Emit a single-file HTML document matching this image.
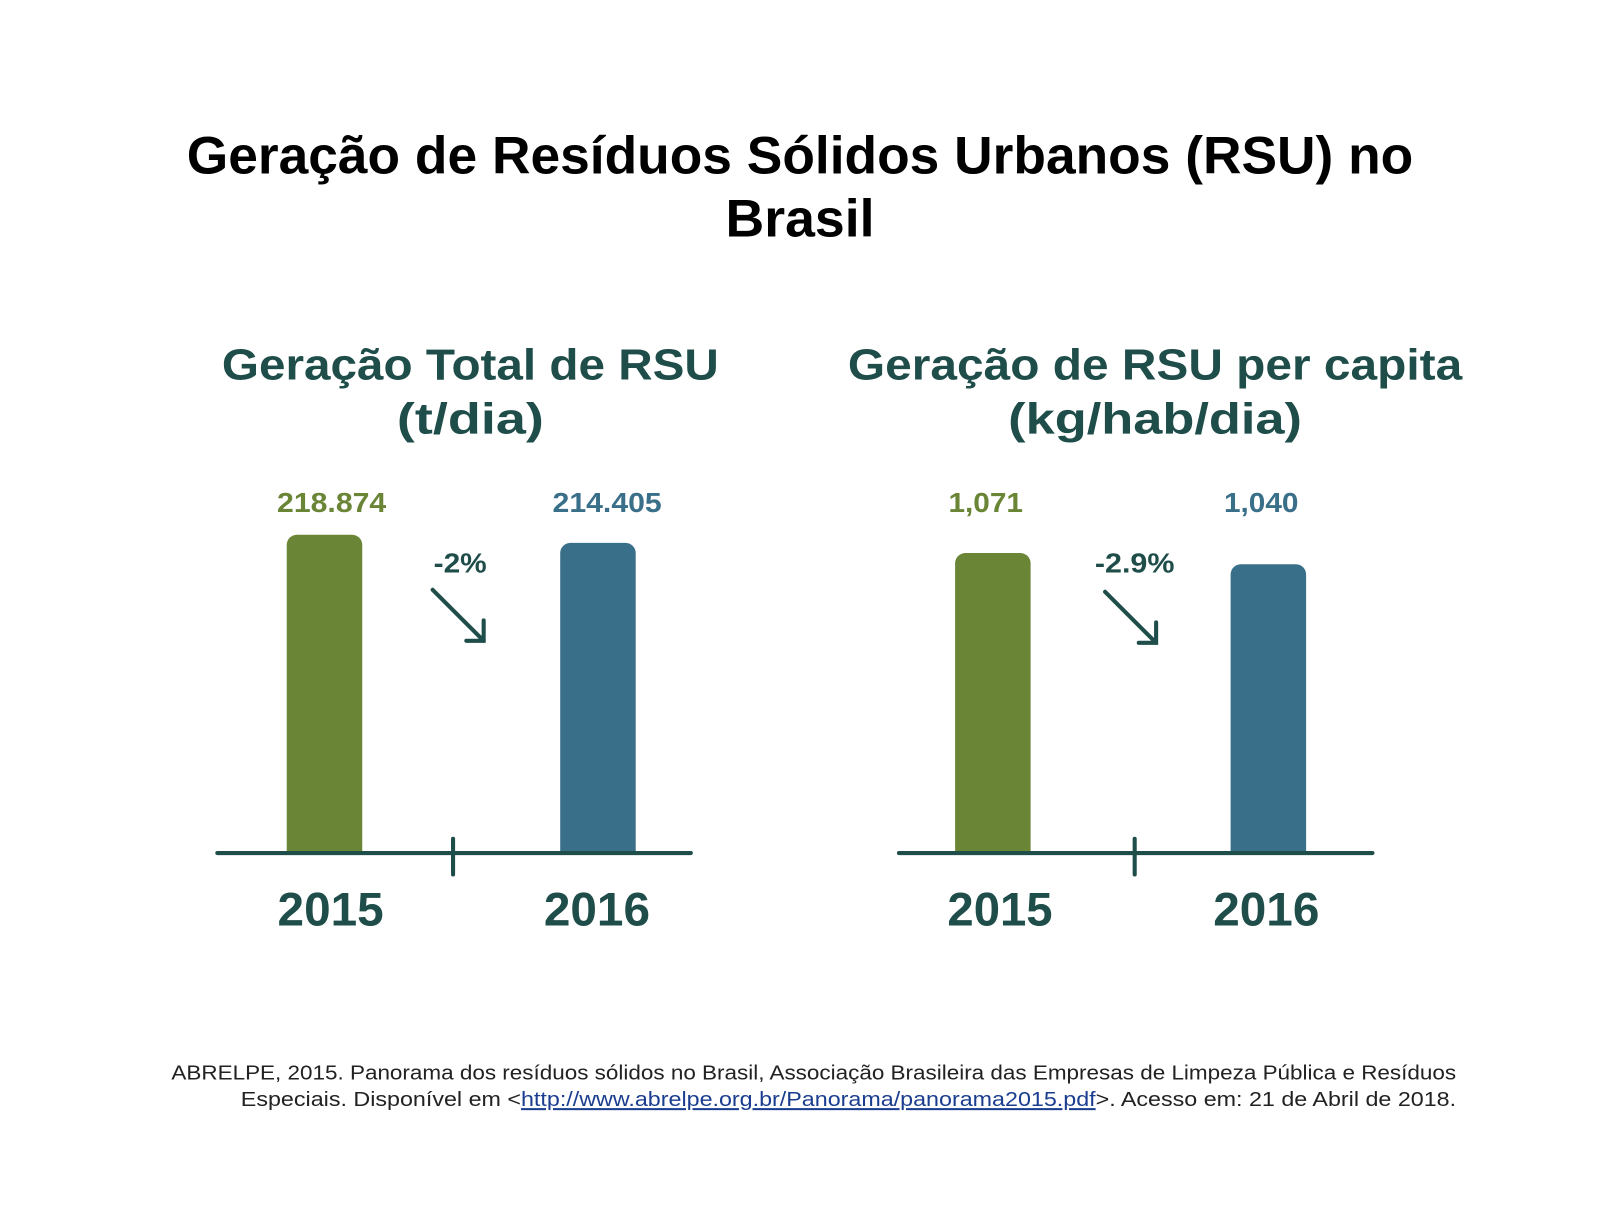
<!DOCTYPE html>
<html><head><meta charset="utf-8"><style>
body{margin:0;background:#fff;width:1600px;height:1200px;overflow:hidden}
svg text{font-family:"Liberation Sans","DejaVu Sans",sans-serif}
</style></head><body>
<svg width="1600" height="1200" xmlns="http://www.w3.org/2000/svg">
<g transform="scale(1.0204)">
<g font-weight="bold" text-anchor="middle" lengthAdjust="spacingAndGlyphs">
<text x="784" y="170" font-size="52" fill="#000" textLength="1202" lengthAdjust="spacingAndGlyphs">Geração de Resíduos Sólidos Urbanos (RSU) no</text>
<text x="784" y="232" font-size="52" fill="#000" textLength="146" lengthAdjust="spacingAndGlyphs">Brasil</text>
<g fill="#1f4d4a" font-size="43">
<text x="461" y="372" textLength="487" lengthAdjust="spacingAndGlyphs">Geração Total de RSU</text>
<text x="461" y="425" textLength="144" lengthAdjust="spacingAndGlyphs">(t/dia)</text>
<text x="1132" y="372" textLength="602" lengthAdjust="spacingAndGlyphs">Geração de RSU per capita</text>
<text x="1132" y="425" textLength="288" lengthAdjust="spacingAndGlyphs">(kg/hab/dia)</text>
</g>
<g font-size="27">
<text x="325" y="502" fill="#6a8536" textLength="107" lengthAdjust="spacingAndGlyphs">218.874</text>
<text x="595" y="502" fill="#3a6f8a" textLength="107" lengthAdjust="spacingAndGlyphs">214.405</text>
<text x="966" y="502" fill="#6a8536" textLength="73" lengthAdjust="spacingAndGlyphs">1,071</text>
<text x="1236" y="502" fill="#3a6f8a" textLength="73" lengthAdjust="spacingAndGlyphs">1,040</text>
<text x="451" y="561" fill="#1f4d4a" textLength="52" lengthAdjust="spacingAndGlyphs">-2%</text>
<text x="1112" y="561" fill="#1f4d4a" textLength="78" lengthAdjust="spacingAndGlyphs">-2.9%</text>
</g>
<g font-size="46" fill="#1f4d4a">
<text x="324" y="907" textLength="104" lengthAdjust="spacingAndGlyphs">2015</text>
<text x="585" y="907" textLength="104" lengthAdjust="spacingAndGlyphs">2016</text>
<text x="980" y="907" textLength="103" lengthAdjust="spacingAndGlyphs">2015</text>
<text x="1241" y="907" textLength="104" lengthAdjust="spacingAndGlyphs">2016</text>
</g>
</g>
<g>
<path d="M281 836V534a10 10 0 0 1 10-10h54a10 10 0 0 1 10 10V836Z" fill="#6a8536"/>
<path d="M549 836V542a10 10 0 0 1 10-10h54a10 10 0 0 1 10 10V836Z" fill="#3a6f8a"/>
<path d="M936 836V552a10 10 0 0 1 10-10h54a10 10 0 0 1 10 10V836Z" fill="#6a8536"/>
<path d="M1206 836V563a10 10 0 0 1 10-10h54a10 10 0 0 1 10 10V836Z" fill="#3a6f8a"/>
</g>
<g stroke="#1f4d4a" stroke-width="4" fill="none" stroke-linecap="round">
<path d="M213 836H677M444 822V857M881 836H1345M1112 822V857"/>
<path d="M424 578L474 628M474 608V628H457"/>
<path d="M1083 580L1133 630M1133 610V630H1116"/>
</g>
<g font-size="20" fill="#222" text-anchor="end">
<text x="1427" y="1058" textLength="1259" lengthAdjust="spacingAndGlyphs">ABRELPE, 2015. Panorama dos resíduos sólidos no Brasil, Associação Brasileira das Empresas de Limpeza Pública e Resíduos</text>
<text x="1427" y="1084" textLength="1191" lengthAdjust="spacingAndGlyphs">Especiais. Disponível em &lt;<tspan fill="#1a3d8f" text-decoration="underline">http://www.abrelpe.org.br/Panorama/panorama2015.pdf</tspan>&gt;. Acesso em: 21 de Abril de 2018.</text>
</g>
</g>
</svg>
</body></html>
